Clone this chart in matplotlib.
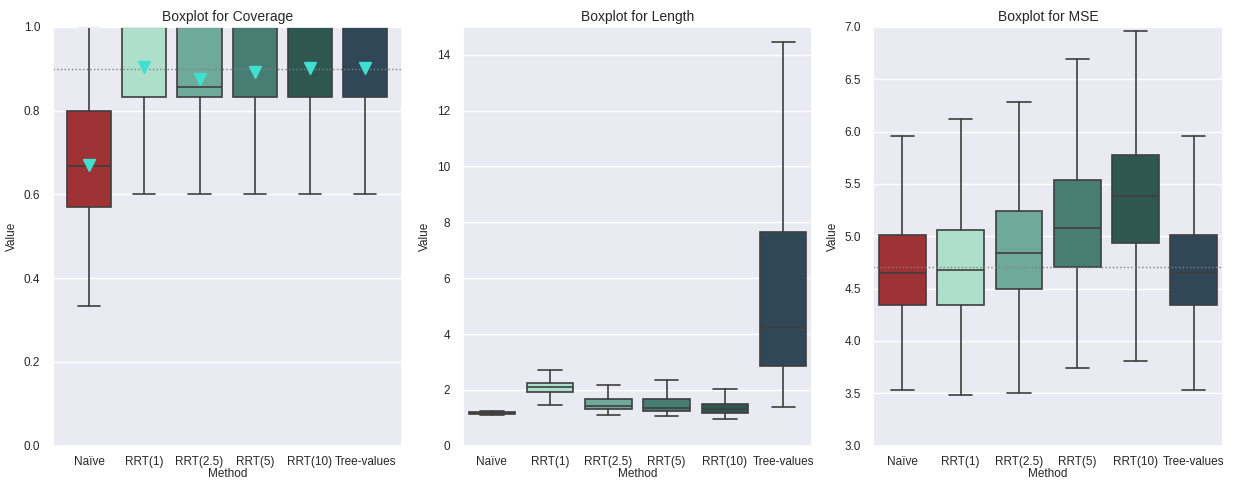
import matplotlib
matplotlib.use("Agg")
import matplotlib.pyplot as plt
import seaborn as sns

methods = ["Naïve", "RRT(1)", "RRT(2.5)", "RRT(5)", "RRT(10)", "Tree-values"]
colors = ["#9e3234", "#aedfcb", "#6fa99a", "#487d74", "#2f5751", "#2f4757"]

# coverage
cov_lo = [0.333, 0.6, 0.6, 0.6, 0.6, 0.6]
cov_q1 = [0.571, 0.833, 0.833, 0.833, 0.833, 0.833]
cov_med = [0.667, 1.0, 0.857, 1.0, 1.0, 1.0]
cov_q3 = [0.8, 1.0, 1.0, 1.0, 1.0, 1.0]
cov_hi = [1.0, 1.0, 1.0, 1.0, 1.0, 1.0]
cov_mean = [0.669, 0.905, 0.876, 0.892, 0.901, 0.902]
cov_target = 0.9

# length
len_lo = [1.11, 1.44, 1.11, 1.06, 0.94, 1.38]
len_q1 = [1.14, 1.91, 1.31, 1.23, 1.17, 2.86]
len_med = [1.17, 2.09, 1.42, 1.34, 1.30, 4.24]
len_q3 = [1.20, 2.25, 1.68, 1.68, 1.50, 7.65]
len_hi = [1.23, 2.72, 2.18, 2.36, 2.02, 14.44]

# mse
mse_lo = [3.53, 3.48, 3.50, 3.74, 3.81, 3.53]
mse_q1 = [4.34, 4.34, 4.50, 4.71, 4.94, 4.34]
mse_med = [4.65, 4.68, 4.84, 5.08, 5.38, 4.65]
mse_q3 = [5.01, 5.06, 5.24, 5.54, 5.78, 5.01]
mse_hi = [5.96, 6.12, 6.28, 6.69, 6.96, 5.96]
mse_ref = 4.71

sns.set_theme(style="darkgrid")
plt.rcParams["font.family"] = ["Liberation Sans", "DejaVu Sans"]

LINE = "#3f3f3f"


def draw(ax, lo, q1, med, q3, hi, mean=None):
    stats = []
    for i in range(len(methods)):
        s = {"whislo": lo[i], "q1": q1[i], "med": med[i], "q3": q3[i],
             "whishi": hi[i], "fliers": []}
        if mean is not None:
            s["mean"] = mean[i]
        stats.append(s)
    bp = ax.bxp(stats, positions=range(len(methods)), widths=0.8,
                patch_artist=True, showmeans=mean is not None,
                showfliers=False,
                boxprops=dict(edgecolor=LINE, linewidth=1.2),
                medianprops=dict(color=LINE, linewidth=1.2),
                whiskerprops=dict(color=LINE, linewidth=1.2),
                capprops=dict(color=LINE, linewidth=1.2),
                meanprops=dict(marker="v", markerfacecolor="#40e0d0",
                               markeredgecolor="#40e0d0", markersize=9))
    for patch, c in zip(bp["boxes"], colors):
        patch.set_facecolor(c)
    ax.set_xticks(range(len(methods)))
    ax.set_xticklabels(methods)
    ax.xaxis.grid(False)
    ax.set_xlabel("Method", fontsize=8.5, labelpad=0)
    ax.set_ylabel("Value", fontsize=8.5)
    ax.tick_params(axis="x", labelsize=8.5, pad=1.5)
    ax.tick_params(axis="y", labelsize=8.5, pad=3)


fig = plt.figure(figsize=(12.33, 4.82), dpi=100)
ax1 = fig.add_axes([0.0427, 0.0753, 0.2835, 0.869])
ax2 = fig.add_axes([0.3753, 0.0753, 0.2835, 0.869])
ax3 = fig.add_axes([0.7083, 0.0753, 0.2835, 0.869])

draw(ax1, cov_lo, cov_q1, cov_med, cov_q3, cov_hi, cov_mean)
ax1.axhline(cov_target, color="gray", linestyle=":", linewidth=1)
ax1.set_ylim(0, 1.0)
ax1.set_xlim(-0.66, 5.67)
ax1.set_title("Boxplot for Coverage", fontsize=10, pad=4)

draw(ax2, len_lo, len_q1, len_med, len_q3, len_hi)
ax2.set_ylim(0, 15)
ax2.set_xlim(-0.5, 5.5)
ax2.set_title("Boxplot for Length", fontsize=10, pad=4)

draw(ax3, mse_lo, mse_q1, mse_med, mse_q3, mse_hi)
ax3.axhline(mse_ref, color="gray", linestyle=":", linewidth=1)
ax3.set_ylim(3.0, 7.0)
ax3.set_xlim(-0.5, 5.5)
ax3.set_title("Boxplot for MSE", fontsize=10, pad=4)

fig.savefig("out.png", dpi=100)
